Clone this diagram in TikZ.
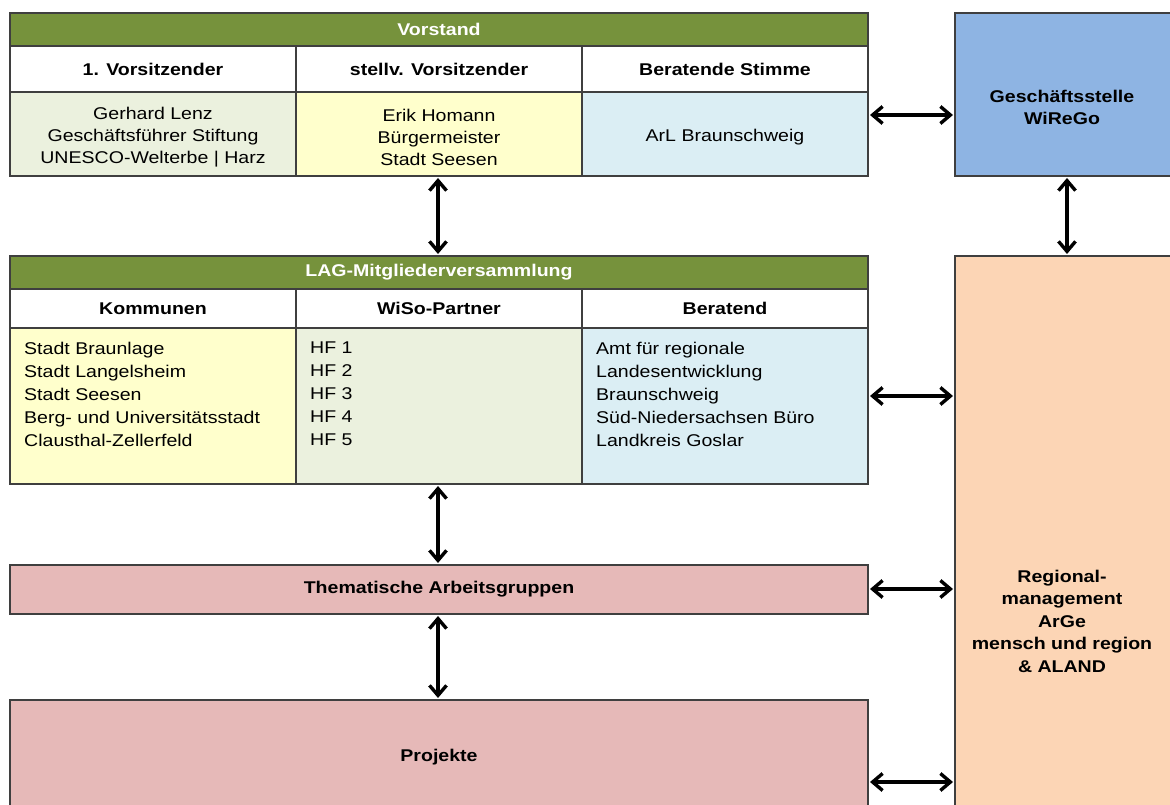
\documentclass[tikz,border=0pt]{standalone}
\usepackage{fontspec}
\setmainfont{Liberation Sans}[FakeStretch=1.15]
\usetikzlibrary{arrows.meta}
\definecolor{hdrgreen}{HTML}{76923C}
\definecolor{cgreen}{HTML}{EBF1DE}
\definecolor{cyellow}{HTML}{FFFFCC}
\definecolor{cblue}{HTML}{DBEEF4}
\definecolor{gsblue}{HTML}{8EB4E3}
\definecolor{rmpeach}{HTML}{FCD5B5}
\definecolor{pinkbox}{HTML}{E6B9B8}
\definecolor{bordergray}{HTML}{3F3F3F}
\begin{document}
\begin{tikzpicture}[x=1pt,y=-1pt,
 box/.style={draw=bordergray, line width=1.2pt, anchor=north west, inner sep=0pt, outer sep=0pt},
 txt/.style={font=\fontsize{17}{22}\selectfont, align=center, inner sep=0pt},
 ltxt/.style={font=\fontsize{17}{23}\selectfont, align=left, inner sep=0pt, anchor=north west},
 btxt/.style={font=\fontsize{17}{22}\selectfont\bfseries, align=center, inner sep=0pt},
 arr/.style={line width=3.4pt, {Straight Barb[length=10pt,width=17pt]}-{Straight Barb[length=10pt,width=17pt]}, shorten <=2pt, shorten >=2pt}]
\useasboundingbox (0,0) rectangle (1170,805);
\begin{scope}
\clip (0,0) rectangle (1170,805);
% Vorstand
\node[box, fill=hdrgreen, minimum width=858pt, minimum height=33pt] (vs) at (10,13) {};
\node[btxt, text=white] at (vs.center) {Vorstand};
\node[box, fill=white, minimum width=286pt, minimum height=46pt] (vh1) at (10,46) {};
\node[box, fill=white, minimum width=286pt, minimum height=46pt] (vh2) at (296,46) {};
\node[box, fill=white, minimum width=286pt, minimum height=46pt] (vh3) at (582,46) {};
\node[btxt] at (vh1.center) {1. Vorsitzender};
\node[btxt] at (vh2.center) {stellv. Vorsitzender};
\node[btxt] at (vh3.center) {Beratende Stimme};
\node[box, fill=cgreen, minimum width=286pt, minimum height=84pt] (vc1) at (10,92) {};
\node[box, fill=cyellow, minimum width=286pt, minimum height=84pt] (vc2) at (296,92) {};
\node[box, fill=cblue, minimum width=286pt, minimum height=84pt] (vc3) at (582,92) {};
\node[txt] at ([yshift=-3pt]vc1.center) {Gerhard Lenz\\Geschäftsführer Stiftung\\UNESCO-Welterbe | Harz};
\node[txt] at ([yshift=-3pt]vc2.center) {Erik Homann\\Bürgermeister\\Stadt Seesen};
\node[txt] at ([yshift=-3pt]vc3.center) {ArL Braunschweig};
% Geschaeftsstelle
\node[box, fill=gsblue, minimum width=217pt, minimum height=163pt] (gs) at (955,13) {};
\node[btxt] at (1062,107) {Geschäftsstelle\\WiReGo};
% LAG
\node[box, fill=hdrgreen, minimum width=858pt, minimum height=33pt] (lag) at (10,256) {};
\node[btxt, text=white] at (lag.center) {LAG-Mitgliederversammlung};
\node[box, fill=white, minimum width=286pt, minimum height=39pt] (lh1) at (10,289) {};
\node[box, fill=white, minimum width=286pt, minimum height=39pt] (lh2) at (296,289) {};
\node[box, fill=white, minimum width=286pt, minimum height=39pt] (lh3) at (582,289) {};
\node[btxt] at (lh1.center) {Kommunen};
\node[btxt] at (lh2.center) {WiSo-Partner};
\node[btxt] at (lh3.center) {Beratend};
\node[box, fill=cyellow, minimum width=286pt, minimum height=156pt] (lc1) at (10,328) {};
\node[box, fill=cgreen, minimum width=286pt, minimum height=156pt] (lc2) at (296,328) {};
\node[box, fill=cblue, minimum width=286pt, minimum height=156pt] (lc3) at (582,328) {};
\node[ltxt] at (24,342) {Stadt Braunlage\\Stadt Langelsheim\\Stadt Seesen\\Berg- und Universitätsstadt\\Clausthal-Zellerfeld};
\node[ltxt] at (310,342) {HF 1\\HF 2\\HF 3\\HF 4\\HF 5};
\node[ltxt] at (596,342) {Amt für regionale\\Landesentwicklung\\Braunschweig\\Süd-Niedersachsen Büro\\Landkreis Goslar};
% Regionalmanagement
\node[box, fill=rmpeach, minimum width=217pt, minimum height=556pt] (rm) at (955,256) {};
\node[btxt, font=\fontsize{17}{22.5}\selectfont\bfseries] at (1062,621) {Regional-\\management\\ArGe\\mensch und region\\\& ALAND};
% Thematische Arbeitsgruppen
\node[box, fill=pinkbox, minimum width=858pt, minimum height=49pt] (tag) at (10,565) {};
\node[btxt] at (tag.center) {Thematische Arbeitsgruppen};
% Projekte
\node[box, fill=pinkbox, minimum width=858pt, minimum height=110pt] (proj) at (10,700) {};
\node[btxt] at (439,757) {Projekte};
\end{scope}
% arrows
\coordinate (ya) at (0,115);
\coordinate (yb) at (0,396);
\coordinate (yc) at (0,589);
\coordinate (yd) at (0,782);
\draw[arr] (vc3.east |- ya) -- (gs.west |- ya);
\draw[arr] (lc3.east |- yb) -- (rm.west |- yb);
\draw[arr] (tag.east |- yc) -- (rm.west |- yc);
\draw[arr] (proj.east |- yd) -- (rm.west |- yd);
\draw[arr] (vc2.south -| 438,0) -- (lag.north -| 438,0);
\draw[arr] (lc2.south -| 438,0) -- (tag.north -| 438,0);
\draw[arr] (tag.south -| 438,0) -- (proj.north -| 438,0);
\draw[arr] (gs.south -| 1067,0) -- (rm.north -| 1067,0);
\end{tikzpicture}
\end{document}
